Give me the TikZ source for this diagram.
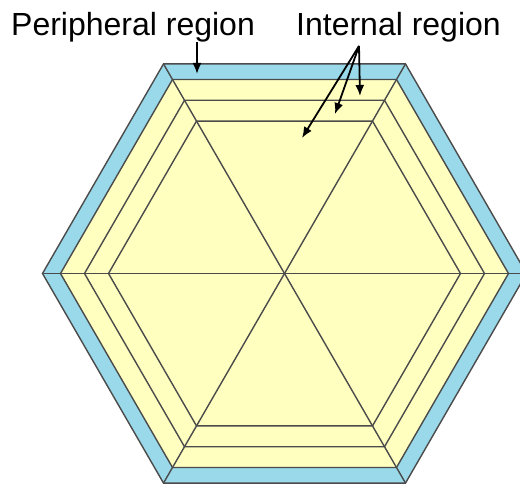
\documentclass[tikz,border=0pt]{standalone}
\usepackage{fontspec}
\setmainfont{Liberation Sans}
\usetikzlibrary{arrows.meta,calc}
\definecolor{bandblue}{RGB}{153,217,234}
\definecolor{bandyellow}{RGB}{255,255,192}
\definecolor{edgegray}{RGB}{75,75,75}
\tikzset{
  hexline/.style={draw=edgegray, line width=1.4pt, line join=miter},
  label/.style={inner sep=0pt, anchor=base west, font=\fontsize{32}{36}\selectfont},
  arr/.style={draw=black, line width=1.8pt, -{Latex[length=11pt,width=9pt]}}
}
\begin{document}
\begin{tikzpicture}[x=1pt,y=-1pt]
\useasboundingbox (0,0) rectangle (520,489);
\coordinate (C) at (284.5,273.5);
% nested hexagons
\foreach \r/\col in {242/bandblue, 224/bandyellow, 200/bandyellow, 176/bandyellow}{
  \filldraw[hexline, fill=\col] ($(C)+(0:\r)$) -- ($(C)+(60:\r)$) -- ($(C)+(120:\r)$) -- ($(C)+(180:\r)$) -- ($(C)+(240:\r)$) -- ($(C)+(300:\r)$) -- cycle;
}
% spokes
\foreach \a in {0,60,...,300}{
  \coordinate (V\a) at ($(C)+(\a:242)$);
  \draw[hexline] (C) -- (V\a);
}
% labels
\node[label] (per) at (11,35.5) {Peripheral region};
\node[label] (int) at (296,36) {Internal region};
% arrows
\coordinate (perStart) at (197,42);
\coordinate (perTip) at (197,74);
\draw[arr] (perStart) -- (perTip);
\coordinate (intStart) at (359,46);
\coordinate (intTipA) at (360,96);
\coordinate (intTipB) at (335,114);
\coordinate (intTipC) at (302,138);
\draw[arr] (intStart) -- (intTipA);
\draw[arr] (intStart) -- (intTipB);
\draw[arr] (intStart) -- (intTipC);
\end{tikzpicture}
\end{document}
